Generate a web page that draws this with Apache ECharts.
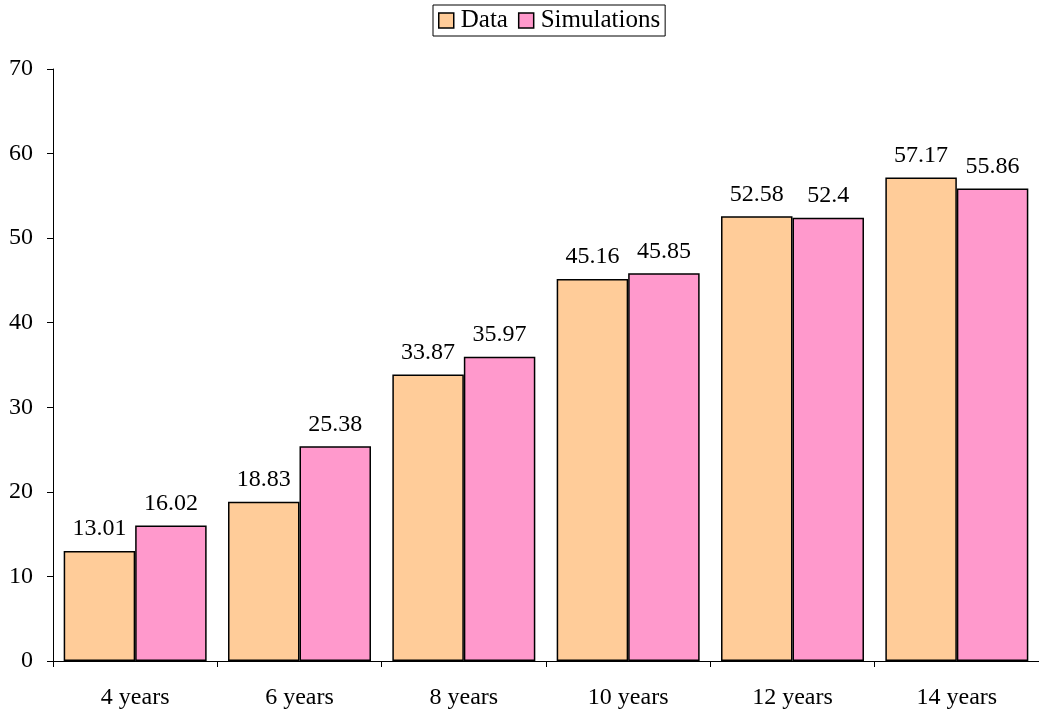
<!DOCTYPE html>
<html>
<head>
<meta charset="utf-8">
<script src="https://cdn.jsdelivr.net/npm/echarts@6/dist/echarts.min.js"></script>
<style>
  html, body { margin: 0; padding: 0; background: #fff; }
  #chart { width: 1039px; height: 715px; }
</style>
</head>
<body>
<div id="chart"></div>
<script>
const categories = ['4 years', '6 years', '8 years', '10 years', '12 years', '14 years']
const dataValues = [13.01, 18.83, 33.87, 45.16, 52.58, 57.17]
const simValues = [16.02, 25.38, 35.97, 45.85, 52.4, 55.86]

const font = "'Liberation Serif', 'Times New Roman', serif"

const chart = echarts.init(document.getElementById('chart'))

function barSeries(name, values, color) {
  return {
    name: name,
    type: 'bar',
    data: values,
    barGap: '0%',
    barCategoryGap: '13%',
    itemStyle: { color: color, borderColor: '#000', borderWidth: 1.5 },
    label: {
      show: true,
      position: 'top',
      distance: 10,
      color: '#000',
      fontFamily: font,
      fontSize: 24
    },
    animation: false
  }
}

chart.setOption({
  textStyle: { fontFamily: font },
  legend: {
    data: ['Data', 'Simulations'],
    left: 433,
    top: 5,
    padding: [3, 5, 3, 5],
    itemGap: 10,
    itemWidth: 15,
    itemHeight: 15,
    borderColor: '#000',
    borderWidth: 1,
    icon: 'rect',
    itemStyle: { borderColor: '#000', borderWidth: 1.5 },
    textStyle: { fontFamily: font, fontSize: 25, color: '#000', padding: [0, 0, 0, 2] }
  },
  grid: {
    left: 53,
    right: -7,
    top: 69,
    bottom: 54
  },
  xAxis: {
    type: 'category',
    data: categories,
    axisLine: { lineStyle: { color: '#000', width: 1 } },
    axisTick: { show: true, length: 6, lineStyle: { color: '#000' } },
    axisLabel: { color: '#000', fontFamily: font, fontSize: 24, margin: 25 }
  },
  yAxis: {
    type: 'value',
    min: 0,
    max: 70,
    interval: 10,
    splitLine: { show: false },
    axisLine: { show: true, lineStyle: { color: '#000', width: 1 } },
    axisTick: { show: true, length: 6, lineStyle: { color: '#000' } },
    axisLabel: { color: '#000', fontFamily: font, fontSize: 24, margin: 20 }
  },
  series: [
    barSeries('Data', dataValues, '#FFCC99'),
    barSeries('Simulations', simValues, '#FF99CC')
  ]
})
</script>
</body>
</html>
